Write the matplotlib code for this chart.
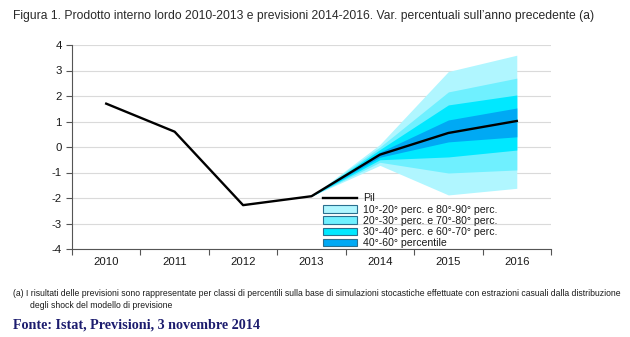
import matplotlib
matplotlib.use("Agg")
import matplotlib.pyplot as plt
from matplotlib.patches import Patch
from matplotlib.lines import Line2D

years = ["2010", "2011", "2012", "2013", "2014", "2015", "2016"]
pil = [1.7, 0.6, -2.28, -1.93, -0.3, 0.55, 1.02]

fan_years = ["2013", "2014", "2015", "2016"]
p10 = [-1.93, -0.72, -1.88, -1.62]
p20 = [-1.93, -0.60, -1.02, -0.90]
p30 = [-1.93, -0.50, -0.39, -0.12]
p40 = [-1.93, -0.40, 0.20, 0.40]
p60 = [-1.93, -0.20, 1.06, 1.53]
p70 = [-1.93, -0.10, 1.65, 2.04]
p80 = [-1.93, 0.00, 2.16, 2.70]
p90 = [-1.93, 0.10, 2.96, 3.60]

labels = ["Pil", "10°-20° perc. e 80°-90° perc.", "20°-30° perc. e 70°-80° perc.",
          "30°-40° perc. e 60°-70° perc.", "40°-60° percentile"]
band_colors = ["#b0f6ff", "#6ff0ff", "#00e8ff", "#00a9f4"]

plt.rcParams['font.family'] = ['Liberation Sans', 'DejaVu Sans']
plt.rcParams['axes.unicode_minus'] = False
fig = plt.figure(figsize=(6.3, 3.37), dpi=100)
ax = fig.add_axes([72/630, 1-249/337, (551-72)/630, (249-45)/337])

x = list(range(len(years)))
fx = [years.index(y) for y in fan_years]
ax.fill_between(fx, p10, p90, color=band_colors[0], lw=0, zorder=2)
ax.fill_between(fx, p20, p80, color=band_colors[1], lw=0, zorder=3)
ax.fill_between(fx, p30, p70, color=band_colors[2], lw=0, zorder=4)
ax.fill_between(fx, p40, p60, color=band_colors[3], lw=0, zorder=5)
ax.plot(x, pil, color="black", lw=1.7, zorder=6)

ax.set_xlim(-0.5, len(years) - 0.5)
ax.set_ylim(-4, 4)
ax.set_yticks(range(-4, 5))
ax.set_xticks(x)
ax.set_xticklabels(years)
ax.set_xticks([i - 0.5 for i in range(len(years) + 1)], minor=True)
ax.tick_params(axis='x', which='major', length=0, labelsize=8.2, pad=6, colors='#1a1a1a')
ax.tick_params(axis='x', which='minor', length=4, width=0.8, color='#555555')
ax.tick_params(axis='y', length=4, width=0.8, color='#555555', labelsize=8.2, labelcolor='#1a1a1a')
for s in ['top', 'right']:
    ax.spines[s].set_visible(False)
for s in ['left', 'bottom']:
    ax.spines[s].set_color('#555555')
    ax.spines[s].set_linewidth(0.8)
ax.grid(axis='y', color='#dadada', lw=0.8, zorder=0)
ax.set_axisbelow(True)

handles = [Line2D([0], [0], color='black', lw=1.7)]
for c in band_colors:
    handles.append(Patch(facecolor=c, edgecolor='#2a6f8f', lw=0.8))
leg = ax.legend(handles, labels, loc='upper left', bbox_to_anchor=((318-72)/479, (249-188)/204),
                frameon=False, fontsize=7.6, handlelength=3.2, handleheight=0.7,
                labelspacing=0.12, borderpad=0, handletextpad=0.6)
for t in leg.get_texts():
    t.set_color('#1a1a1a')

fig.text(13/630, 1-16/337, "Figura 1. Prodotto interno lordo 2010-2013 e previsioni 2014-2016. Var. percentuali sull\u2019anno precedente (a)",
         fontsize=8.7, color='#2a2a2a', va='center', ha='left')
fig.text(13/630, 1-293/337, "(a) I risultati delle previsioni sono rappresentate per classi di percentili sulla base di simulazioni stocastiche effettuate con estrazioni casuali dalla distribuzione",
         fontsize=6.2, color='#1a1a1a', va='center', ha='left')
fig.text(30/630, 1-306/337, "degli shock del modello di previsione",
         fontsize=6.2, color='#1a1a1a', va='center', ha='left')
fig.text(13/630, 1-325/337, "Fonte: Istat, Previsioni, 3 novembre 2014",
         fontsize=10.2, color='#1c1c6e', va='center', ha='left', fontweight='bold', family='Liberation Serif')

fig.savefig("out.png", dpi=100)
